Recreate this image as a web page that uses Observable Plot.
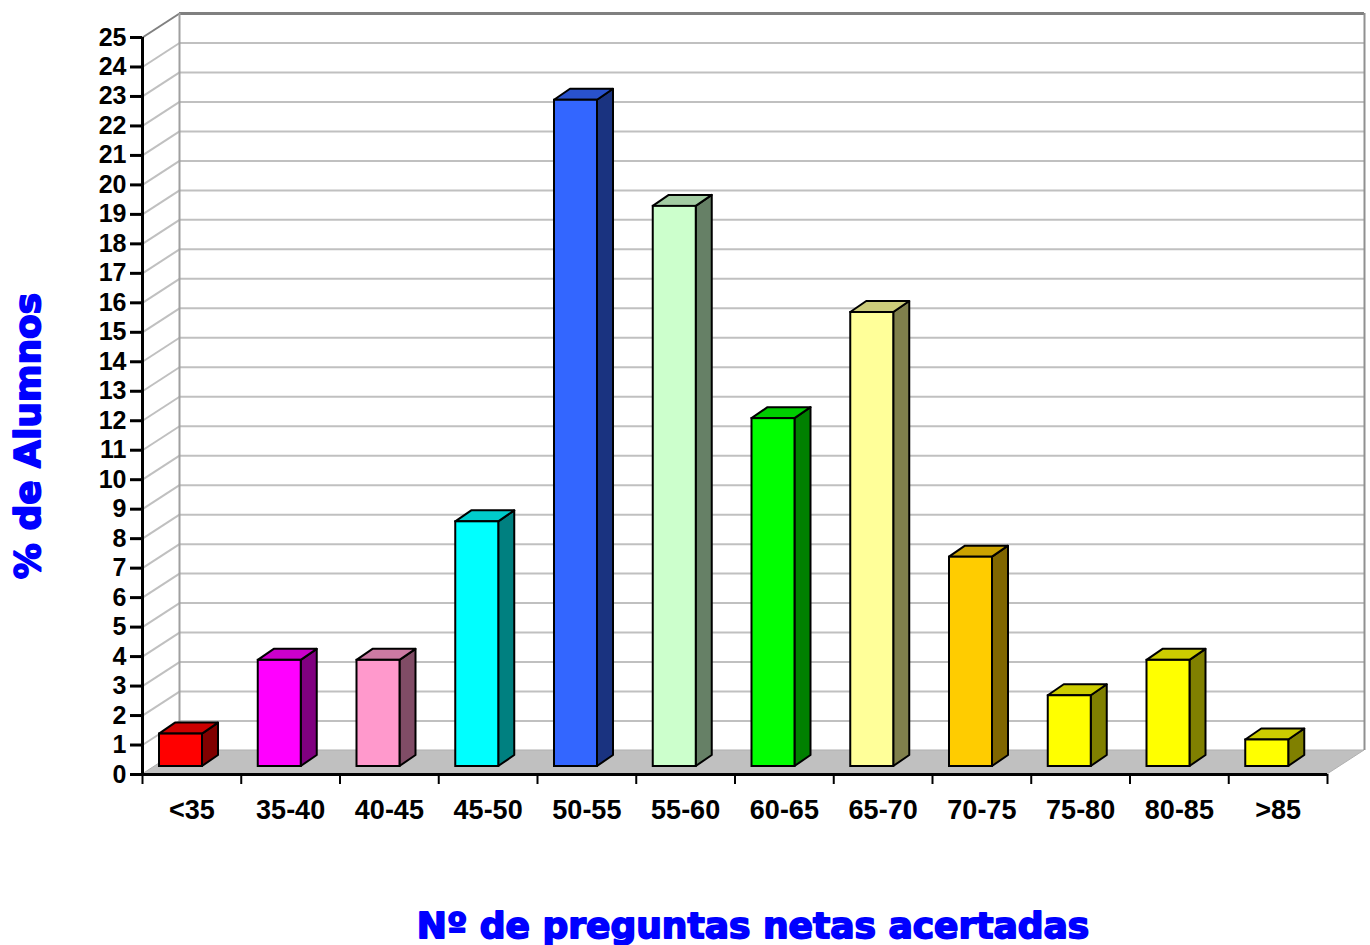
<!DOCTYPE html>
<html>
<head>
<meta charset="utf-8">
<script src="https://cdn.jsdelivr.net/npm/d3@7"></script>
<script src="https://cdn.jsdelivr.net/npm/@observablehq/plot@0.6"></script>
<style>
  html, body { margin: 0; padding: 0; background: #ffffff; }
  #chart svg { display: block; overflow: visible; }
</style>
</head>
<body>
<div id="chart"></div>
<script>
// ---- data ----
const categories = ["<35", "35-40", "40-45", "45-50", "50-55", "55-60", "60-65", "65-70", "70-75", "75-80", "80-85", ">85"];
const values = [1.1, 3.6, 3.6, 8.3, 22.6, 19.0, 11.8, 15.4, 7.1, 2.4, 3.6, 0.9];
const frontColors = ["#ff0000", "#ff00ff", "#ff99cc", "#00ffff", "#3366ff", "#ccffcc", "#00ff00", "#ffff99", "#ffcc00", "#ffff00", "#ffff00", "#ffff00"];
const topColors   = ["#cc0000", "#cc00cc", "#cc7aa3", "#00cccc", "#2952cc", "#a3cca3", "#00cc00", "#cccc7a", "#cca300", "#cccc00", "#cccc00", "#cccc00"];
const sideColors  = ["#800000", "#800080", "#804c66", "#008080", "#1a3380", "#668066", "#008000", "#80804c", "#806600", "#808000", "#808000", "#808000"];
const yTicks = d3.range(0, 26);
const xTitle = "Nº de preguntas netas acertadas";
const yTitle = "% de Alumnos";

// ---- layout ----
const W = 1370, H = 945;
const mL = 142, mR = 43, mT = 37, mB = 171;
const pxX = 12 / (W - mL - mR);      // data units per pixel (x)
const pxY = 25 / (H - mT - mB);      // data units per pixel (y)
const DX = 37 * pxX, DY = 24 * pxY;  // chart depth
const BX0 = 17 * pxX, BX1 = 60 * pxX;           // bar front face within category
const B0 = 8 * pxY;                              // bar baseline lift
const BDX = 16 * pxX, BDY = 11 * pxY;            // bar depth

const bars = categories.map((c, i) => ({
  c, i,
  xl: i + BX0, xr: i + BX1,
  y0: B0, y1: values[i] + B0
}));
const sides = bars.flatMap(d => [
  {i: d.i, x: d.xr, y1: d.y0, y2: d.y1},
  {i: d.i, x: d.xr + BDX, y1: d.y0 + BDY, y2: d.y1 + BDY}
]);
const tops = bars.flatMap(d => [
  {i: d.i, y: d.y1, x1: d.xl, x2: d.xr},
  {i: d.i, y: d.y1 + BDY, x1: d.xl + BDX, x2: d.xr + BDX}
]);
const floor = [
  {y: 0, x1: 0, x2: 12},
  {y: DY, x1: DX, x2: 12 + DX}
];

const titleFont = "'DejaVu Sans', Verdana, sans-serif";

const chart = Plot.plot({
  width: W, height: H,
  marginLeft: mL, marginRight: mR, marginTop: mT, marginBottom: mB,
  x: {domain: [0, 12], axis: null},
  y: {domain: [0, 25], axis: null},
  color: {type: "identity"},
  style: {fontFamily: "'Liberation Sans', Arial, sans-serif", background: "#ffffff", overflow: "visible"},
  marks: [
    // floor
    Plot.areaX(floor, {y: "y", x1: "x1", x2: "x2", fill: "#c0c0c0", stroke: "#b0b0b0", strokeWidth: 1}),
    // back wall grid lines
    Plot.ruleY(yTicks.slice(1, 25), {y: d => d + DY, x1: () => DX, x2: () => 12 + DX, stroke: "#c0c0c0", strokeWidth: 2}),
    // side wall diagonals
    Plot.link(yTicks.slice(1, 25), {x1: () => 0, y1: d => d, x2: () => DX, y2: d => d + DY, stroke: "#c0c0c0", strokeWidth: 2}),
    // wall edges
    Plot.link([25], {x1: () => 0, y1: d => d, x2: () => DX, y2: d => d + DY, stroke: "#808080", strokeWidth: 2}),
    Plot.ruleY([25], {y: d => d + DY, x1: () => DX, x2: () => 12 + DX, stroke: "#808080", strokeWidth: 3}),
    Plot.ruleX([DX], {y1: () => DY, y2: () => 25 + DY, stroke: "#a0a0a0", strokeWidth: 2}),
    Plot.ruleX([12 + DX], {y1: () => DY, y2: () => 25 + DY, stroke: "#909090", strokeWidth: 2}),
    // bars
    Plot.areaY(sides, {x: "x", y1: "y1", y2: "y2", z: "i", fill: d => sideColors[d.i], stroke: "#000", strokeWidth: 2, strokeLinejoin: "round"}),
    Plot.areaX(tops, {y: "y", x1: "x1", x2: "x2", z: "i", fill: d => topColors[d.i], stroke: "#000", strokeWidth: 2, strokeLinejoin: "round"}),
    Plot.rect(bars, {x1: "xl", x2: "xr", y1: "y0", y2: "y1", fill: d => frontColors[d.i], stroke: "#000", strokeWidth: 2}),
    // axes lines
    Plot.ruleY([0], {x1: () => 0, x2: () => 12, stroke: "#000", strokeWidth: 3}),
    Plot.ruleX([0], {y1: () => 0, y2: () => 25, stroke: "#000", strokeWidth: 3}),
    // y ticks and labels
    Plot.ruleY(yTicks, {y: d => d, x1: () => 0, x2: () => -12 * pxX, stroke: "#000", strokeWidth: 3}),
    Plot.text(yTicks, {x: () => 0, y: d => d, text: d => String(d), textAnchor: "end", dx: -16, fontSize: 25, fontWeight: "bold", fill: "#000"}),
    // x ticks and labels
    Plot.ruleX(d3.range(13), {x: d => d, y1: () => 0, y2: () => -10 * pxY, stroke: "#000", strokeWidth: 2}),
    Plot.text(bars, {x: d => d.i + 0.5, y: () => 0, text: "c", dy: 36, lineAnchor: "middle", fontSize: 27, fontWeight: "bold", fill: "#000"}),
    // titles
    Plot.text([xTitle], {frameAnchor: "bottom", text: d => d, dx: 18, dy: 152, lineAnchor: "middle", textAnchor: "middle",
      fontSize: 36, fontWeight: "bold", fontFamily: titleFont, fill: "#0000ff", stroke: "#0000ff", strokeWidth: 1.8}),
    Plot.text([yTitle], {frameAnchor: "left", text: d => d, rotate: -90, dx: -114, dy: 30, lineAnchor: "middle", textAnchor: "middle",
      fontSize: 36, fontWeight: "bold", fontFamily: titleFont, fill: "#0000ff", stroke: "#0000ff", strokeWidth: 1.8})
  ]
});
document.getElementById("chart").appendChild(chart);
</script>
</body>
</html>
